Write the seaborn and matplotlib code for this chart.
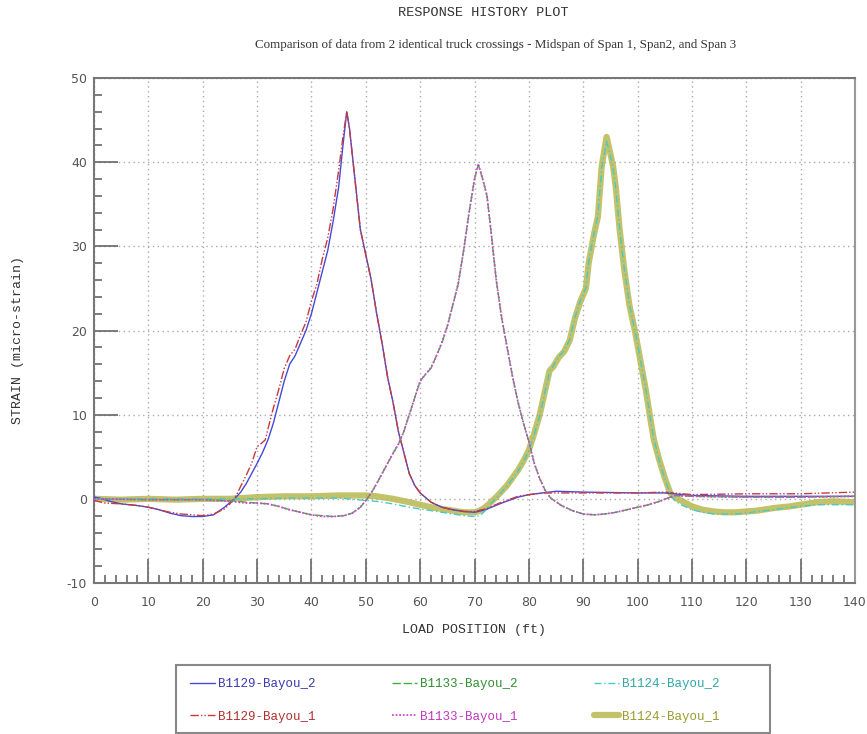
import pandas as pd
import seaborn as sns
import matplotlib.pyplot as plt
from matplotlib.patches import Rectangle
from matplotlib.ticker import MultipleLocator

# span 1 - B1129
x_b1129_1 = [0, 2, 5, 8, 10, 12, 14, 16, 18, 20, 22, 24, 25, 26, 27, 28, 29, 30, 30.8, 31.5,
             32, 33, 34, 35, 36, 37, 38, 39, 40, 41, 42, 43, 44, 45, 45.8, 46.5, 47, 48, 49, 50,
             51, 52, 53, 54, 55, 56, 57, 58, 59, 60, 62, 64, 66, 68, 70, 72, 75, 78, 80, 83,
             90, 100, 105, 110, 120, 130, 140]
y_b1129_1 = [-0.2, -0.5, -0.6, -0.8, -1.0, -1.3, -1.6, -1.8, -1.9, -2.0, -1.8, -1.2, -0.6, 0.2, 1.5,
             2.8, 4.2, 6.2, 6.6, 7.0, 8.3, 10.8, 13.0, 15.5, 17.0, 17.8, 19.5, 21.0, 23.5, 25.5, 28.5,
             31.0, 34.5, 39.0, 43.0, 46.0, 44.0, 38.0, 32.0, 29.0, 26.0, 22.0, 18.5, 14.5, 11.5, 8.0,
             5.5, 3.0, 1.6, 0.7, -0.4, -1.0, -1.3, -1.5, -1.5, -1.2, -0.4, 0.3, 0.5, 0.7, 0.7, 0.7,
             0.8, 0.5, 0.6, 0.6, 0.8]
x_b1129_2 = [0, 1, 3, 5, 8, 10, 12, 14, 16, 18, 20, 22, 24, 26, 27, 28, 29, 30, 31, 32, 33, 34,
             35, 36, 37, 38, 39, 40, 41, 42, 43, 44, 45, 45.8, 46.5, 47, 48, 49, 50, 51, 52, 53,
             54, 55, 56, 57, 58, 59, 60, 62, 64, 66, 68, 70, 72, 75, 78, 80, 85, 90, 100, 105,
             110, 120, 130, 140]
y_b1129_2 = [0.2, 0.1, -0.3, -0.6, -0.8, -1.0, -1.3, -1.7, -2.0, -2.1, -2.1, -1.9, -1.0, 0.1, 0.8,
             1.8, 3.0, 4.2, 5.5, 7.0, 9.0, 11.5, 14.0, 16.0, 17.0, 18.5, 20.0, 22.0, 24.5, 27.0, 29.5,
             33.0, 37.0, 42.0, 46.0, 44.0, 38.0, 32.0, 29.0, 26.0, 22.0, 18.5, 14.5, 11.5, 8.0, 5.5,
             3.0, 1.6, 0.7, -0.4, -1.0, -1.3, -1.5, -1.6, -1.3, -0.5, 0.2, 0.5, 0.9, 0.8, 0.7, 0.7,
             0.4, 0.3, 0.3, 0.3]

# span 2 - B1133
x_b1133 = [0, 10, 20, 25, 28, 30, 32, 34, 36, 38, 40, 42, 44, 46, 47.5, 49, 50, 51, 52, 53, 54,
           55, 56, 57, 58, 59, 60, 61, 62, 63, 64, 65, 66, 67, 68, 69, 70, 70.7, 71.5, 72.3, 73,
           74, 75, 76, 77, 78, 79, 80, 81, 82, 83, 84, 86, 88, 90, 92, 94, 96, 98, 100, 102,
           104, 106, 107, 110, 120, 130, 140]
y_b1133_2 = [0.0, -0.1, -0.1, -0.2, -0.4, -0.5, -0.6, -0.9, -1.3, -1.6, -1.9, -2.0, -2.1, -2.0,
             -1.7, -1.0, -0.2, 0.7, 1.8, 3.0, 4.2, 5.4, 6.5, 8.0, 10.0, 12.0, 14.0, 14.8, 15.5,
             17.0, 18.5, 20.5, 23.0, 25.5, 29.5, 34.0, 38.0, 39.7, 38.0, 36.0, 32.0, 26.0, 21.5,
             18.0, 14.5, 11.5, 9.0, 6.8, 4.2, 2.4, 1.0, 0.1, -0.8, -1.4, -1.8, -1.9, -1.8, -1.6,
             -1.3, -1.0, -0.7, -0.3, 0.2, 0.4, 0.3, 0.2, 0.2, 0.3]
y_b1133_1 = [0.0, -0.1, -0.1, -0.3, -0.5, -0.5, -0.6, -0.9, -1.3, -1.6, -1.9, -2.1, -2.1, -2.0,
             -1.7, -1.0, -0.2, 0.7, 1.8, 3.0, 4.2, 5.4, 6.5, 8.0, 10.0, 12.0, 14.0, 14.8, 15.6,
             17.0, 18.6, 20.5, 23.0, 25.6, 29.5, 34.0, 38.0, 39.8, 38.0, 36.0, 32.0, 26.0, 21.5,
             18.0, 14.5, 11.5, 9.0, 6.8, 4.2, 2.4, 1.0, 0.1, -0.8, -1.4, -1.8, -1.9, -1.8, -1.6,
             -1.3, -1.0, -0.7, -0.3, 0.2, 0.4, 0.3, 0.2, 0.2, 0.3]

# span 3 - B1124
x_b1124 = [0, 5, 10, 15, 20, 25, 30, 35, 40, 45, 50, 52, 55, 58, 60, 62, 65, 68, 70, 71, 72, 73,
           74, 75, 76, 77, 78, 79, 80, 81, 82, 83, 83.8, 84.5, 85.5, 86.5, 87.5, 88.5, 89.5,
           90.5, 91, 92, 92.7, 93.4, 94.3, 95, 95.5, 96, 96.7, 97.5, 98.5, 99.5, 100.5, 101.5,
           102.3, 103, 104, 105, 106, 107, 108, 110, 112, 114, 116, 118, 120, 122, 125, 128,
           130, 133, 136, 140]
y_b1124_1 = [0.0, -0.1, 0.0, -0.1, 0.0, 0.0, 0.2, 0.3, 0.3, 0.4, 0.4, 0.3, 0.0, -0.4, -0.7, -1.0,
             -1.3, -1.6, -1.6, -1.4, -1.0, -0.4, 0.2, 0.9, 1.6, 2.5, 3.4, 4.5, 5.8, 7.8, 10.0,
             12.9, 15.2, 15.7, 16.8, 17.5, 18.8, 21.5, 23.5, 25.0, 28.0, 31.5, 33.5, 39.5, 43.0,
             41.0, 39.5, 37.0, 32.0, 27.5, 23.0, 20.0, 16.5, 13.0, 9.7, 7.0, 4.6, 2.5, 0.7, 0.1,
             -0.2, -0.9, -1.3, -1.5, -1.6, -1.6, -1.5, -1.4, -1.1, -0.9, -0.7, -0.4, -0.3, -0.4]
y_b1124_2 = [0.0, 0.0, 0.0, 0.0, 0.0, 0.0, 0.0, 0.1, 0.1, 0.1, -0.2, -0.3, -0.6, -1.0, -1.2, -1.4,
             -1.7, -2.0, -2.1, -2.0, -1.4, -0.6, 0.1, 0.8, 1.5, 2.4, 3.3, 4.4, 5.7, 7.7, 9.9,
             12.8, 15.1, 15.8, 16.9, 17.6, 18.9, 21.6, 23.6, 25.1, 28.1, 31.6, 33.6, 39.3, 42.5,
             40.8, 39.2, 36.8, 32.1, 27.6, 23.1, 20.1, 16.6, 13.1, 9.8, 7.1, 4.5, 2.4, 0.6, -0.3,
             -0.7, -1.3, -1.6, -1.8, -1.8, -1.8, -1.7, -1.5, -1.3, -1.0, -0.9, -0.7, -0.7, -0.7]

labels = ["B1129-Bayou_2", "B1129-Bayou_1", "B1133-Bayou_2", "B1133-Bayou_1",
          "B1124-Bayou_2", "B1124-Bayou_1"]
colors = ["#4848d8", "#c83a3a", "#40b040", "#d048d0", "#48c8c8", "#b8b850"]
text_colors = ["#3a3ab0", "#b03030", "#309030", "#c038c0", "#30a8a8", "#9a9a30"]

sns.set_style("white")
plt.rcParams["axes.unicode_minus"] = False
mono = "Liberation Mono"

fig = plt.figure(figsize=(8.67, 7.34), dpi=100)
ax = fig.add_axes([94 / 867, 1 - 583 / 734, 761 / 867, 505 / 734])

# thick olive one goes underneath
sns.lineplot(x=x_b1124, y=y_b1124_1, ax=ax, color=colors[5], lw=4.5, alpha=0.85,
             label=labels[5], zorder=2)
sns.lineplot(x=x_b1129_2, y=y_b1129_2, ax=ax, color=colors[0], lw=1.0,
             label=labels[0], zorder=3)
sns.lineplot(x=x_b1129_1, y=y_b1129_1, ax=ax, color=colors[1], lw=1.0,
             linestyle=(0, (6, 1.5, 1, 1.5, 1, 1.5)), label=labels[1], zorder=3)
sns.lineplot(x=x_b1133, y=y_b1133_2, ax=ax, color=colors[2], lw=1.0,
             linestyle=(0, (6, 2)), label=labels[2], zorder=3)
sns.lineplot(x=x_b1133, y=y_b1133_1, ax=ax, color=colors[3], lw=1.3,
             linestyle=(0, (1, 1)), label=labels[3], zorder=4)
sns.lineplot(x=x_b1124, y=y_b1124_2, ax=ax, color=colors[4], lw=1.0,
             linestyle=(0, (5, 2, 1, 2)), label=labels[4], zorder=3)

ax.set_xlim(0, 140)
ax.set_ylim(-10, 50)
ax.xaxis.set_major_locator(MultipleLocator(10))
ax.xaxis.set_minor_locator(MultipleLocator(2))
ax.yaxis.set_major_locator(MultipleLocator(10))
ax.yaxis.set_minor_locator(MultipleLocator(2))
ax.tick_params(which="both", bottom=True, left=True, top=False, right=False)
ax.tick_params(which="major", direction="in", length=17.5, width=1.2, color="#666666",
               labelcolor="#555555", labelsize=9)
ax.tick_params(which="minor", direction="in", length=6, width=1.2, color="#666666")
ax.tick_params(axis="x", pad=9)
ax.tick_params(axis="y", pad=5)
ax.grid(True, which="major", color="#aaaaaa", linestyle=(0, (1, 2.5)), lw=1)
for side in ["left", "bottom", "top"]:
    ax.spines[side].set_color("#777777")
    ax.spines[side].set_linewidth(1.5)
ax.spines["right"].set_color("#999999")
ax.spines["right"].set_linewidth(1.5)
ax.set_xlabel("")
ax.set_ylabel("")

fig.text(483 / 867, 1 - 13 / 734, "RESPONSE HISTORY PLOT", ha="center", va="center",
         family=mono, fontsize=9.7, color="#333333")
fig.text(496 / 867, 1 - 45 / 734,
         "Comparison of data from 2 identical truck crossings - Midspan of Span 1, Span2, and Span 3",
         ha="center", va="center", family="Liberation Serif", fontsize=9.4, color="#333333")
fig.text(18 / 867, 1 - 340 / 734, "STRAIN (micro-strain)", rotation=90, ha="center",
         va="center", family=mono, fontsize=9.5, color="#333333")
fig.text(474 / 867, 1 - 630 / 734, "LOAD POSITION (ft)", ha="center", va="center",
         family=mono, fontsize=9.5, color="#333333")

handles, labs = ax.get_legend_handles_labels()
order = [labs.index(l) for l in labels]
ax.get_legend().remove()
leg = fig.legend([handles[i] for i in order], labels, ncol=3,
                 loc="center left", bbox_to_anchor=(190 / 867, 1 - 700.5 / 734),
                 borderaxespad=0, borderpad=0, frameon=False,
                 prop={"family": mono, "size": 9}, handlelength=2.0, handletextpad=0.25,
                 labelspacing=1.65, columnspacing=6.1)
for k, txt in enumerate(leg.get_texts()):
    txt.set_color(text_colors[k])
fig.add_artist(Rectangle((176 / 867, 1 / 734), (770 - 176) / 867, 68 / 734,
                         transform=fig.transFigure, fill=False, edgecolor="#888888", lw=1.5))

fig.savefig("out.png", dpi=100)
